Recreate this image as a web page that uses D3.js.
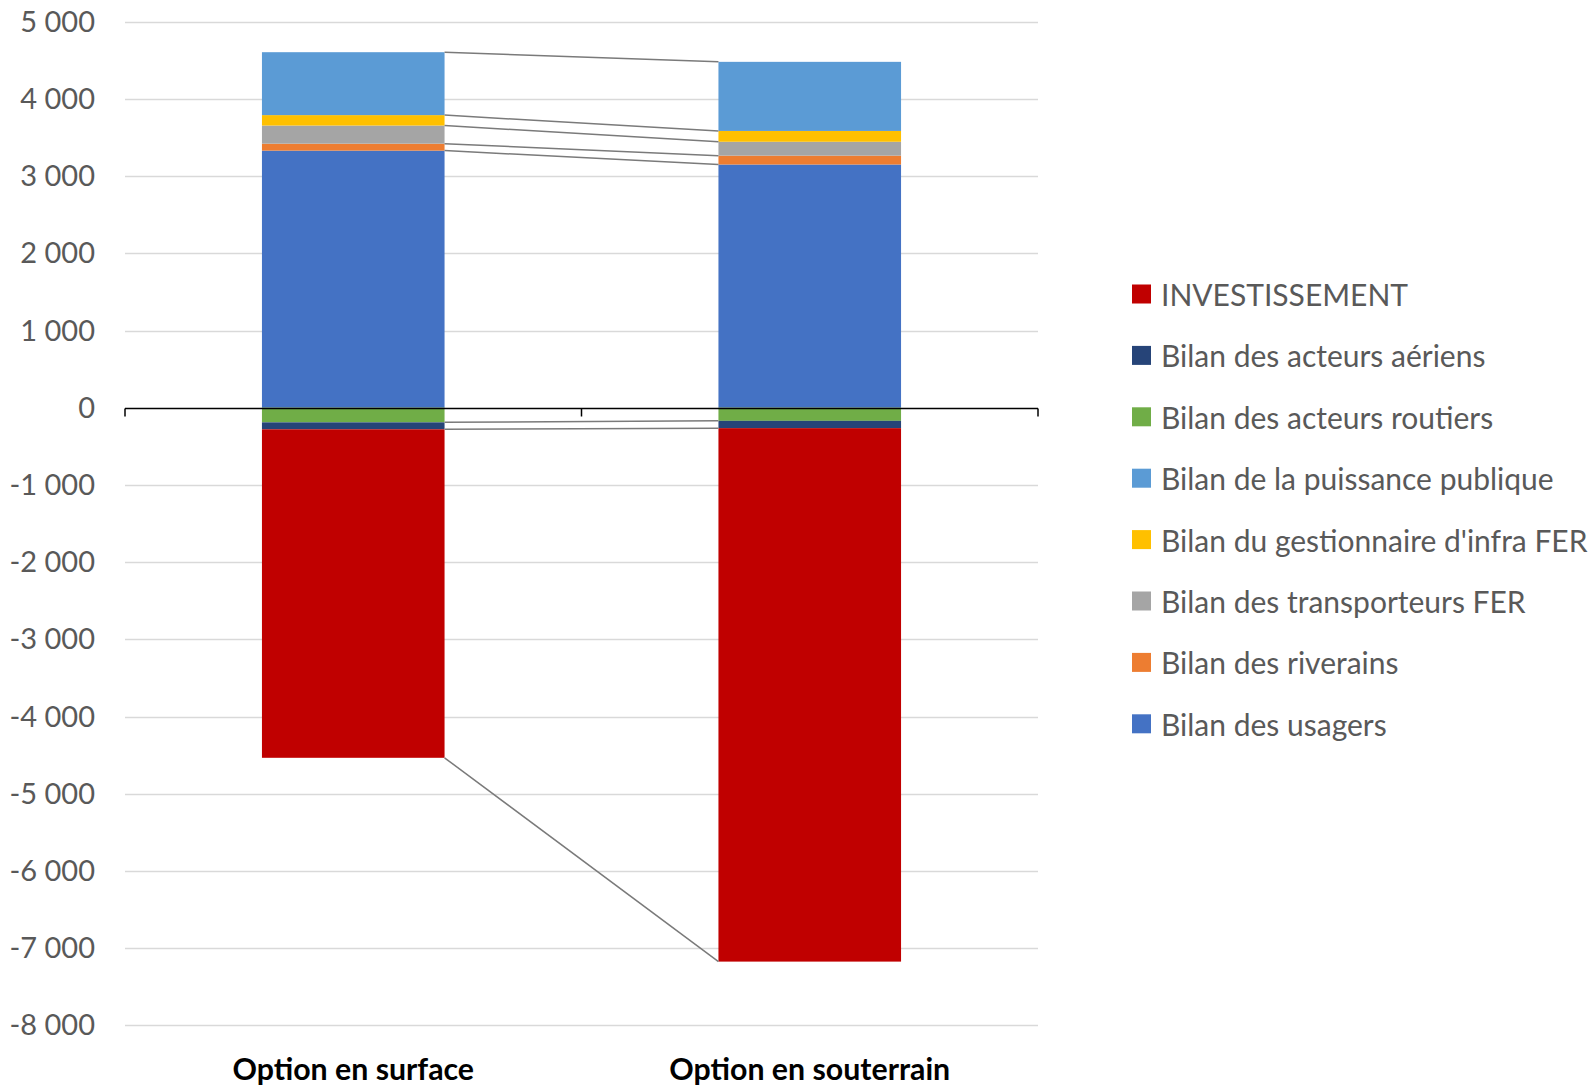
<!DOCTYPE html>
<html>
<head>
<meta charset="utf-8">
<script src="https://cdn.jsdelivr.net/npm/d3@7"></script>
<style>
  html, body { margin: 0; padding: 0; background: #fff; }
  svg { display: block; }
</style>
</head>
<body>
<svg id="chart" width="1593" height="1087"></svg>
<script>
// Options compared
const categories = ["Option en surface", "Option en souterrain"];

// Series, in stacking order (first series sits next to the zero line)
const seriesNames = [
  "Bilan des usagers",
  "Bilan des riverains",
  "Bilan des transporteurs FER",
  "Bilan du gestionnaire d'infra FER",
  "Bilan de la puissance publique",
  "Bilan des acteurs routiers",
  "Bilan des acteurs aériens",
  "INVESTISSEMENT"
];
const seriesColors = [
  "#4472C4", "#ED7D31", "#A5A5A5", "#FFC000",
  "#5B9BD5", "#70AD47", "#264478", "#C00000"
];

// Values per series: [surface, souterrain]
const usagers        = [3330, 3150];
const riverains      = [90, 115];
const transporteurs  = [235, 180];
const gestionnaire   = [135, 140];
const puissance      = [815, 895];
const routiers       = [-190, -170];
const aeriens        = [-90, -95];
const investissement = [-4255, -6910];

const seriesValues = [usagers, riverains, transporteurs, gestionnaire,
                      puissance, routiers, aeriens, investissement];

// Axis ticks
const yTicks = [5000, 4000, 3000, 2000, 1000, 0, -1000, -2000, -3000,
                -4000, -5000, -6000, -7000, -8000];

const svg = d3.select("#chart");
const left = 125, right = 1038;
const font = "Lato, 'Open Sans', sans-serif";

const y = d3.scaleLinear().domain([-8000, 5000]).range([1025.3, 21.7]);
const x = d3.scaleBand().domain(categories).range([left, right])
  .paddingInner(0.6).paddingOuter(0.3);

// thousands separated by a space, plain hyphen for negatives
const fmt = v => d3.format(",")(v).replace(/,/g, " ").replace("\u2212", "-");

// rows for d3.stack
const rows = categories.map((c, i) => {
  const r = { cat: c };
  seriesNames.forEach((n, k) => { r[n] = seriesValues[k][i]; });
  return r;
});
const stacked = d3.stack().keys(seriesNames)
  .offset(d3.stackOffsetDiverging)(rows);

// gridlines
svg.append("g").selectAll("line").data(yTicks.filter(t => t !== 0)).join("line")
  .attr("x1", left).attr("x2", right)
  .attr("y1", d => Math.round(y(d)) + 0.5).attr("y2", d => Math.round(y(d)) + 0.5)
  .attr("stroke", "#d9d9d9").attr("stroke-width", 1.3);

// y tick labels
svg.append("g").selectAll("text").data(yTicks).join("text")
  .attr("x", 95).attr("y", d => y(d) - 1.5)
  .attr("text-anchor", "end").attr("dominant-baseline", "central")
  .attr("font-family", font)
  .attr("font-size", 29).attr("fill", "#595959")
  .text(fmt);

// stacked bars
const gBars = svg.append("g");
stacked.forEach((s, k) => {
  gBars.append("g").attr("fill", seriesColors[k])
    .selectAll("rect").data(s).join("rect")
    .attr("x", d => x(d.data.cat))
    .attr("width", x.bandwidth())
    .attr("y", d => y(d[1]))
    .attr("height", d => y(d[0]) - y(d[1]));
});

// series lines joining the outer end of each segment between the two bars
const gLines = svg.append("g");
stacked.forEach(s => {
  const end = d => (d.data[s.key] >= 0 ? d[1] : d[0]);
  const a = s[0], b = s[1];
  gLines.append("line")
    .attr("x1", x(a.data.cat) + x.bandwidth())
    .attr("x2", x(b.data.cat))
    .attr("y1", y(end(a))).attr("y2", y(end(b)))
    .attr("stroke", "#7a7a7a").attr("stroke-width", 1.5);
});

// zero axis with tick marks
const y0 = Math.round(y(0)) + 0.5;
svg.append("line").attr("x1", left).attr("x2", right)
  .attr("y1", y0).attr("y2", y0)
  .attr("stroke", "#000").attr("stroke-width", 1.5);
const tickXs = [left, (x(categories[0]) + x.bandwidth() + x(categories[1])) / 2, right];
svg.append("g").selectAll("line").data(tickXs).join("line")
  .attr("x1", d => d).attr("x2", d => d)
  .attr("y1", y0).attr("y2", y0 + 8)
  .attr("stroke", "#000").attr("stroke-width", 1.5);

// category labels
svg.append("g").selectAll("text").data(categories).join("text")
  .attr("x", d => x(d) + x.bandwidth() / 2).attr("y", 1068)
  .attr("text-anchor", "middle").attr("dominant-baseline", "central")
  .attr("font-family", font)
  .attr("font-weight", "bold").attr("font-size", 30.3).attr("fill", "#000")
  .text(d => d);

// legend (listed from last series to first)
const legendOrder = d3.range(seriesNames.length).reverse();
const lg = svg.append("g");
const item = lg.selectAll("g").data(legendOrder).join("g")
  .attr("transform", (k, i) => `translate(1132, ${294 + i * 61.4})`);
item.append("rect").attr("x", 0).attr("y", -9.5).attr("width", 19).attr("height", 19)
  .attr("fill", k => seriesColors[k]);
item.append("text").attr("x", 29).attr("y", 0)
  .attr("dominant-baseline", "central")
  .attr("font-family", font)
  .attr("font-size", 30).attr("fill", "#595959")
  .text(k => seriesNames[k]);
</script>
</body>
</html>
